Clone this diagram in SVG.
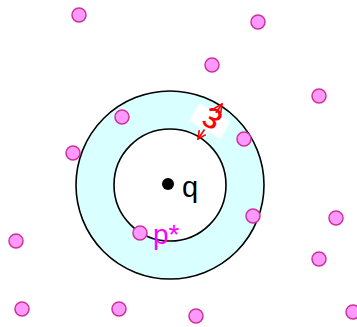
<svg xmlns="http://www.w3.org/2000/svg" width="357" height="327" viewBox="0 0 357 327">
<style>
.pt{fill:#ff99ff;stroke:#cc3399;stroke-width:1.5}
.ring{stroke:#000;stroke-width:1.6}
.lbl{font-family:"Liberation Sans",Arial,sans-serif}
</style>
<defs>
<marker id="ah" viewBox="0 0 10 10" refX="9" refY="5" markerWidth="10" markerHeight="10" orient="auto-start-reverse" markerUnits="userSpaceOnUse">
<path d="M1,1 L9,5 L1,9" fill="none" stroke="#ff0000" stroke-width="1.6"/>
</marker>
</defs>
<rect width="357" height="327" fill="#fff"/>
<g id="annulus">
<circle class="ring" cx="170" cy="185" r="94" fill="#d9ffff"/>
<circle class="ring" cx="170" cy="185" r="56" fill="#fff"/>
</g>
<g id="q">
<circle cx="168" cy="184" r="6" fill="#000"/>
<text class="lbl" x="182" y="197" font-size="29" fill="#000">q</text>
</g>
<g id="points">
<circle class="pt" cx="79" cy="15" r="7"/>
<circle class="pt" cx="258" cy="22" r="7"/>
<circle class="pt" cx="212" cy="65" r="7"/>
<circle class="pt" cx="319" cy="96" r="7"/>
<circle class="pt" cx="122" cy="117" r="7"/>
<circle class="pt" cx="73" cy="153" r="7"/>
<circle class="pt" cx="244" cy="139" r="7"/>
<circle class="pt" cx="253" cy="216" r="7"/>
<circle class="pt" cx="336" cy="218" r="7"/>
<circle class="pt" cx="16" cy="241" r="7"/>
<circle class="pt" cx="319" cy="259" r="7"/>
<circle class="pt" cx="22" cy="309" r="7"/>
<circle class="pt" cx="119" cy="309" r="7"/>
<circle class="pt" cx="196" cy="316" r="7"/>
<circle class="pt" cx="353" cy="312" r="7"/>
</g>
<g id="pstar">
<circle class="pt" cx="140" cy="233" r="7"/>
<text class="lbl" x="153" y="244" font-size="28" fill="#ff00ff">p*</text>
</g>
<g id="connectors">
<line x1="198" y1="139" x2="222" y2="104" stroke="#ff0000" stroke-width="1.6" marker-start="url(#ah)" marker-end="url(#ah)"/>
</g>
<g id="eps-label">
<rect x="-18" y="-10" width="36" height="20" fill="#fff" transform="translate(210,121) rotate(30)"/>
<text class="lbl" x="0" y="0" font-size="38" fill="#ff0000" text-anchor="middle" dominant-baseline="central" transform="translate(211,121) rotate(210)">ε</text>
</g>
</svg>
